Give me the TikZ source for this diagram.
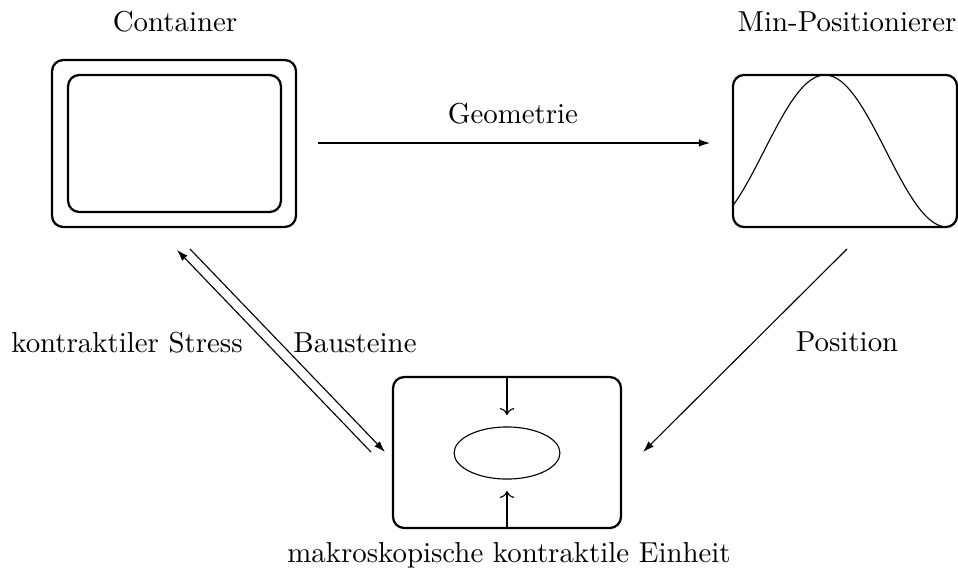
\documentclass[tikz,border=0pt]{standalone}
\usepackage{tikz}
\usetikzlibrary{positioning, shapes.geometric, arrows.meta}

\begin{document}
\begin{tikzpicture}[x=0.357pt, y=-0.357pt,
        every node/.style={font=\fontsize{10.3pt}{12pt}\selectfont},
        box/.style={draw, thick, rounded corners=4pt, inner sep=0pt},
        arr/.style={-{Latex[length=4pt, width=2.7pt]}, thin}]
        \useasboundingbox (0,0) rectangle (958,583);

        % Boxes
        \node[box, minimum width=87.1pt, minimum height=59.6pt] (cont) at (174,143.5) {};
        \node[box, minimum width=76pt, minimum height=48.9pt]   (contin) at (174.5,143.5) {};
        \node[box, minimum width=80pt, minimum height=54.3pt]   (minpos) at (845,151) {};
        \node[box, minimum width=81.4pt, minimum height=53.9pt] (unit) at (507,452.5) {};
        \node[draw, thin, ellipse, minimum width=37.8pt, minimum height=18.6pt, inner sep=0pt] (blob) at (507,453) {};

        % Labels
        \node (lcont) at (175,22) {Container};
        \node (lminpos) at (847,22) {Min-Positionierer};
        \node (lgeo) at (513,114) {Geometrie};
        \node (lstress) at (127,343) {kontraktiler Stress};
        \node (lbau) at (355,343) {Bausteine};
        \node (lpos) at (847,342) {Position};
        \node (lunit) at (509,555) {makroskopische kontraktile Einheit};

        % Min-Positionierer curve
        \draw[thin, shift={(minpos.center)}] plot[domain=-136:180, samples=80, smooth]
            ({-20+\x/180*122}, {-76*cos(\x)});

        % Arrow ends
        \coordinate (s1) at (177,250);
        \coordinate (s2) at (371,452);
        \coordinate (b1) at (190,249);
        \coordinate (b2) at (385,452);
        \coordinate (p1) at (847,249);
        \coordinate (p2) at (643,452);

        % Arrows
        \draw[arr, shorten <=7.5pt, shorten >=7.8pt] (cont.east |- 0,143) -- (minpos.west |- 0,143);
        \draw[arr] (s2) -- (s1);
        \draw[arr] (b1) -- (b2);
        \draw[arr] (p1) -- (p2);

        % Inner arrows
        \draw[->, thin] (unit.north) -- (507,415);
        \draw[->, thin] (unit.south) -- (507,491);
    \end{tikzpicture}
\end{document}
